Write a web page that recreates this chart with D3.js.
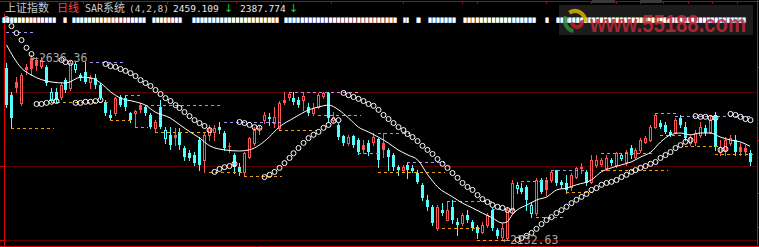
<!DOCTYPE html>
<html>
<head>
<meta charset="utf-8">
<script src="https://cdn.jsdelivr.net/npm/d3@7/dist/d3.min.js"></script>
<style>
  html, body { margin: 0; padding: 0; background: #000; }
  svg { display: block; }
</style>
</head>
<body>
<svg id="chart" width="759" height="247"></svg>
<script>
// daily bars: [open, high, low, close]
const candles = [
  [2601,2615,2495,2500],[2527,2536,2438,2465],[2563,2576,2536,2547],[2506,2587,2500,2582],[2604,2612,2585,2596],
  [2628,2636.36,2582,2598],[2623,2631,2596,2606],[2606,2631,2601,2623],[2604,2609,2555,2560],[2514,2547,2509,2536],
  [2536,2547,2509,2514],[2522,2560,2517,2555],[2568,2574,2536,2541],[2547,2620,2541,2615],[2598,2617,2590,2612],
  [2582,2587,2568,2574],[2590,2617,2560,2563],[2563,2582,2547,2574],[2574,2585,2547,2555],[2555,2560,2517,2522],
  [2509,2514,2473,2478],[2473,2487,2459,2465],[2478,2522,2473,2519],[2522,2527,2498,2500],[2519,2527,2487,2495],
  [2478,2481,2454,2459],[2478,2487,2440,2484],[2500,2506,2481,2487],[2495,2500,2473,2478],[2473,2478,2438,2440],
  [2438,2459,2427,2454],[2495,2514,2438,2440],[2410,2440,2397,2432],[2419,2440,2380,2391],[2419,2438,2391,2410],
  [2427,2438,2380,2391],
  [2383,2389,2350,2359],[2369,2378,2350,2356],[2364,2372,2337,2342],[2405,2413,2323,2337],[2350,2424,2318,2419],
  [2419,2446,2405,2438],[2427,2446,2405,2438],[2440,2454,2424,2432],[2424,2429,2378,2383],[2389,2397,2372,2386],
  [2364,2369,2315,2331],[2331,2342,2310,2318],[2318,2372,2310,2369],[2359,2413,2356,2410],[2397,2440,2391,2432],
  [2438,2446,2421,2435],[2459,2481,2451,2473],[2468,2478,2446,2462],[2451,2495,2440,2468],[2438,2511,2432,2506],
  [2514,2536,2503,2506],[2522,2536,2514,2530],[2519,2536,2503,2509],[2514,2522,2495,2500],[2514,2533,2487,2525],
  [2495,2506,2473,2478],[2478,2506,2473,2492],[2495,2533,2492,2527],[2525,2536,2519,2533],[2533,2536,2454,2465],
  [2459,2481,2454,2468],[2446,2451,2408,2413],[2416,2419,2391,2397],[2397,2419,2391,2413],[2416,2419,2386,2391],
  [2405,2410,2367,2372],[2391,2405,2369,2378],[2397,2405,2364,2372],[2400,2424,2391,2413],[2408,2410,2331,2350],
  [2397,2424,2359,2378],[2378,2383,2323,2359],[2364,2369,2323,2331],[2331,2337,2310,2323],[2323,2337,2318,2331],
  [2337,2345,2302,2323],[2329,2337,2318,2321],[2315,2323,2288,2291],[2283,2288,2242,2247],[2242,2255,2214,2223],
  [2223,2228,2174,2179],[2165,2228,2160,2223],[2214,2233,2201,2206],[2187,2236,2187,2214],[2223,2242,2179,2187],
  [2182,2193,2146,2174],[2179,2206,2174,2201],[2201,2214,2182,2187],[2182,2187,2160,2165],[2168,2174,2138,2152],
  [2155,2182,2152,2174],[2174,2206,2168,2201],[2214,2220,2160,2165],[2160,2165,2138,2144],[2141,2179,2132.63,2165],
  [2138,2223,2136,2214],[2214,2296,2209,2288],[2274,2291,2261,2283],[2274,2288,2261,2263],[2277,2283,2214,2242],
  [2206,2236,2195,2228],[2206,2302,2201,2296],[2296,2302,2261,2263],[2296,2304,2255,2269],[2296,2323,2291,2318],
  [2323,2323,2283,2288],[2291,2296,2274,2283],[2288,2310,2261,2269],[2277,2315,2269,2310],[2304,2331,2302,2329],
  [2329,2342,2315,2331],[2318,2323,2283,2288],[2291,2364,2288,2350],[2337,2364,2331,2350],[2340,2356,2334,2350],
  [2329,2364,2323,2356],[2350,2356,2337,2342],[2337,2372,2331,2369],[2356,2369,2350,2364],[2345,2378,2337,2372],
  [2383,2391,2356,2364],[2359,2383,2356,2378],[2378,2410,2372,2405],[2400,2416,2397,2410],[2405,2446,2402,2440],
  [2440,2478,2438,2473],[2451,2459,2438,2440],[2446,2454,2424,2427],[2427,2432,2416,2419],[2427,2465,2424,2459],
  [2465,2473,2440,2446],[2440,2454,2405,2410],[2397,2419,2391,2413],[2400,2432,2391,2424],[2419,2454,2413,2440],
  [2438,2446,2419,2424],[2427,2473,2424,2459],[2473,2481,2378,2386],[2372,2405,2364,2386],[2378,2413,2364,2405],
  [2397,2419,2391,2410],[2405,2419,2364,2372],[2386,2397,2364,2372],[2383,2391,2364,2372],[2369,2378,2337,2345]
];

// SAR(4,2,8), one value per bar
const sar = [
  2734,2715,2696,2677,2656,2639,2503,2503,2506,2509,
  2511,2623,2617,2615,2506,2506,2509,2509,2511,2514,
  2612,2606,2604,2598,2593,2587,2579,2568,2560,2552,
  2541,2530,2519,2511,2500,2492,2481,2470,2459,2451,
  2443,2432,2318,2326,2331,2334,2340,2454,2451,2446,
  2440,2438,2304,2310,2318,2329,2342,2356,2369,2383,
  2397,2410,2419,2427,2438,2446,2457,2459,2533,2527,
  2522,2517,2511,2503,2498,2487,2473,2462,2451,2440,
  2432,2421,2413,2402,2389,2378,2367,2353,2340,2329,
  2315,2302,2288,2277,2269,2255,2244,2236,2228,2223,
  2220,2214,2212,2133,2138,2144,2152,2163,2176,2187,
  2195,2206,2214,2223,2233,2242,2250,2258,2269,2274,
  2283,2288,2291,2296,2304,2310,2318,2323,2329,2334,
  2340,2345,2356,2364,2372,2383,2391,2400,2405,2470,
  2468,2468,2465,2465,2378,2380,2476,2473,2468,2462,
  2459.109
];

// white average line, read at sample bars
const maIdx = [0,3,5,9,12,15,17,19,21,23,26,28,30,33,35,37,39,41,44,47,49,51,53,55,58,61,63,65,67,69,71,73,75,77,79,81,83,85,87,90,92,94,96,98,100,101,102,103,105,107,109,111,113,115,118,120,122,124,126,128,130,132,134,136,138,140,142,144,146,148,150];
const maVal = [2664,2601,2582,2563,2560,2576,2574,2560,2536,2519,2509,2500,2481,2465,2446,2427,2410,2389,2378,2375,2378,2391,2413,2440,2465,2487,2495,2500,2487,2465,2440,2427,2413,2397,2378,2364,2350,2310,2277,2250,2233,2220,2206,2193,2179,2182,2201,2214,2228,2242,2250,2269,2274,2283,2296,2318,2329,2337,2345,2359,2372,2400,2419,2424,2419,2424,2424,2413,2405,2400,2387.774];

// dashed stop levels: [from bar, to bar, price]
const highLines = [[0,5,2699],[17,23,2617],[24,27,2527],[28,43,2500],[44,55,2454],[57,71,2536],[75,81,2424],[81,88,2345],[89,98,2239],[98,102,2217],[104,109,2293],[110,116,2323],[120,130,2369],[131,135,2478],[135,150,2470]];
const lowLines = [[1,9,2438],[9,20,2509],[21,25,2459],[26,28,2440],[30,41,2427],[41,47,2318],[48,55,2307],[55,62,2432],[63,71,2473],[71,75,2369],[75,88,2318],[88,95,2165],[95,102,2133],[107,112,2195],[113,118,2263],[120,133,2323],[132,137,2419],[137,143,2389],[143,150,2367]];

const gridPrices = [2535.6, 2334.1, 2132.63];
const rightTicks = [2604, 2405, 2261, 2168];
const topTicks = [3.5, 15.5, 18.5, 32.5, 46.5, 55.5, 65.5, 80, 92, 95, 109, 118, 123, 128, 132.5, 137.5, 142.5, 147.5];
const hiMark = { i: 5, v: 2636.36 };
const loMark = { i: 100, v: 2132.63 };

const RED = "#ff5454", CYAN = "#54ffff", FRAME = "#e00000", GRID = "#5a0000";
const CJK = "'Noto Sans CJK SC', sans-serif", MONO = "'DejaVu Sans Mono', monospace";

let width = 759, height = 247;
let svg = d3.select("#chart");
svg.append("rect").attr("width", width).attr("height", height).attr("fill", "#000");

let x = d3.scaleLinear().domain([0, candles.length - 1]).range([6, 749.5]);
let y = d3.scaleLinear().domain([2132.63, 2636.36]).range([240, 55]);
let px = i => Math.round(x(i));
let py = v => Math.round(y(v));

// grid
svg.selectAll(".grid").data(gridPrices).enter().append("line")
  .attr("x1", 4).attr("x2", 757)
  .attr("y1", d => py(d) + 0.5).attr("y2", d => py(d) + 0.5)
  .attr("stroke", GRID);
svg.selectAll(".ltick").data(gridPrices.slice(1)).enter().append("line")
  .attr("x1", 0).attr("x2", 4)
  .attr("y1", d => py(d) + 0.5).attr("y2", d => py(d) + 0.5)
  .attr("stroke", FRAME);
svg.selectAll(".rtick").data(rightTicks).enter().append("line")
  .attr("x1", 757).attr("x2", 759)
  .attr("y1", d => py(d) + 0.5).attr("y2", d => py(d) + 0.5)
  .attr("stroke", FRAME);

// frame
svg.append("line").attr("x1", 0).attr("x2", 759).attr("y1", 1.5).attr("y2", 1.5).attr("stroke", "#c00000");
svg.selectAll(".ttick").data(topTicks).enter().append("line")
  .attr("x1", d => px(d) + 0.5).attr("x2", d => px(d) + 0.5)
  .attr("y1", 1).attr("y2", 4).attr("stroke", "#c00000");
svg.append("line").attr("x1", 4.5).attr("x2", 4.5).attr("y1", 13).attr("y2", 247).attr("stroke", FRAME);
svg.append("line").attr("x1", 757.5).attr("x2", 757.5).attr("y1", 0).attr("y2", 247).attr("stroke", FRAME);
svg.append("line").attr("x1", 0).attr("x2", 759).attr("y1", 246.5).attr("y2", 246.5).attr("stroke", FRAME);

// candles
let cg = svg.append("g");
candles.forEach((d, i) => {
  let [o, h, l, c] = d;
  let prev = i > 0 ? candles[i - 1][3] : o;
  let color = c >= prev ? RED : CYAN;
  let cx = px(i);
  let top = py(Math.max(o, c)), bot = py(Math.min(o, c));
  cg.append("line")
    .attr("x1", cx + 0.5).attr("x2", cx + 0.5)
    .attr("y1", py(h)).attr("y2", py(l) + 1)
    .attr("stroke", color);
  if (c > o) {
    cg.append("rect")
      .attr("x", cx - 0.5).attr("y", top + 0.5)
      .attr("width", 2).attr("height", Math.max(bot - top, 1))
      .attr("fill", "#000").attr("stroke", color);
  } else {
    cg.append("rect")
      .attr("x", cx - 1).attr("y", top)
      .attr("width", 3).attr("height", Math.max(bot - top, 1))
      .attr("fill", color);
  }
});

// dashed stop levels
function dashed(rows, color) {
  svg.append("g").selectAll("line").data(rows).enter().append("line")
    .attr("x1", d => px(d[0])).attr("x2", d => px(d[1]) + 3)
    .attr("y1", d => py(d[2]) + 0.5).attr("y2", d => py(d[2]) + 0.5)
    .attr("stroke", color).attr("stroke-dasharray", "3,3");
}
dashed(highLines, "#a890f0");
dashed(lowLines, "#f0a000");

// average line
let line = d3.line().x(d => x(d[0]) + 0.5).y(d => y(d[1])).curve(d3.curveMonotoneX);
svg.append("path")
  .datum(maIdx.map((k, j) => [k, maVal[j]]))
  .attr("d", line).attr("fill", "none").attr("stroke", "#fff").attr("stroke-width", 1);

// SAR dots
svg.append("g").selectAll("circle").data(sar).enter().append("circle")
  .attr("cx", (d, i) => px(i) + 0.5).attr("cy", d => y(d))
  .attr("r", 2.5).attr("fill", "none").attr("stroke", "#fff").attr("stroke-width", 1);

// extreme labels
svg.append("text").attr("x", px(hiMark.i) + 1).attr("y", py(hiMark.v) + 7)
  .attr("font-family", MONO).attr("font-size", 11.5).attr("fill", "#a8a8a8")
  .text("\u2190" + hiMark.v.toFixed(2));
svg.append("text").attr("x", px(loMark.i) + 1).attr("y", py(loMark.v) + 4)
  .attr("font-family", MONO).attr("font-size", 11.5).attr("fill", "#a8a8a8")
  .text("\u2190" + loMark.v.toFixed(2));

// logo box (behind header row 2)
svg.append("rect").attr("x", 559).attr("y", 5).attr("width", 194).attr("height", 30).attr("fill", "#1c1c1c");
svg.append("rect").attr("x", 592).attr("y", 0).attr("width", 23).attr("height", 3).attr("fill", "#3a3a3a");
svg.append("rect").attr("x", 640).attr("y", 0).attr("width", 22).attr("height", 3).attr("fill", "#3a3a3a");

// header row 1
function label(xp, txt, color, font, size) {
  svg.append("text").attr("x", xp).attr("y", 12)
    .attr("font-family", font).attr("font-size", size).attr("fill", color).text(txt);
}
label(5, "上证指数", "#c8c8c8", CJK, 11);
label(57, "日线", "#ff4040", CJK, 11);
label(85, "SAR", "#c8c8c8", MONO, 10);
label(103, "系统", "#c8c8c8", CJK, 11);
label(129, "(4,2,8)", "#c8c8c8", MONO, 9.5);
label(173, sar[sar.length - 1].toFixed(3), "#e8e8e8", MONO, 9.5);
label(224, "\u2193", "#20d020", "DejaVu Sans", 11);
label(240, maVal[maVal.length - 1].toFixed(3), "#e8e8e8", MONO, 9.5);
label(289, "\u2193", "#20d020", "DejaVu Sans", 11);

// header row 2 (garbled glyph runs), one text line
const runs = [[2,57],[63,68],[72,147],[152,183],[192,280],[284,398],[403,410],[416,422],[428,457],[463,537],[545,550],[556,747]];
let row2 = svg.append("text").attr("y", 22)
  .attr("font-family", "DejaVu Sans").attr("font-size", 7).attr("fill", "#fff");
runs.forEach(r => {
  let w = r[1] - r[0] - 1;
  let n = Math.max(1, Math.round(w / 4));
  row2.append("tspan").attr("x", r[0])
    .attr("textLength", w).attr("lengthAdjust", "spacingAndGlyphs")
    .text("\u25A0".repeat(n));
});

// logo
let lg = svg.append("g").attr("opacity", 0.85);
let arc = d3.arc();
lg.append("path").attr("transform", "translate(575,21)")
  .attr("d", arc({ innerRadius: 8, outerRadius: 12, startAngle: -0.6, endAngle: 1.7 })).attr("fill", "#d8b000");
lg.append("path").attr("transform", "translate(575,21)")
  .attr("d", arc({ innerRadius: 8, outerRadius: 12, startAngle: 3.3, endAngle: 5.2 })).attr("fill", "#2e8a3c");
lg.append("path").attr("transform", "translate(577,22)")
  .attr("d", arc({ innerRadius: 3, outerRadius: 7, startAngle: 1.2, endAngle: 4.6 })).attr("fill", "#c02028");
lg.append("text").attr("x", 590).attr("y", 32)
  .attr("font-family", "'Liberation Sans', Arial, sans-serif").attr("font-weight", "bold")
  .attr("font-size", 24).attr("fill", "#c0283a")
  .attr("textLength", 156).attr("lengthAdjust", "spacingAndGlyphs")
  .text("www.55188.com");
</script>
</body>
</html>
